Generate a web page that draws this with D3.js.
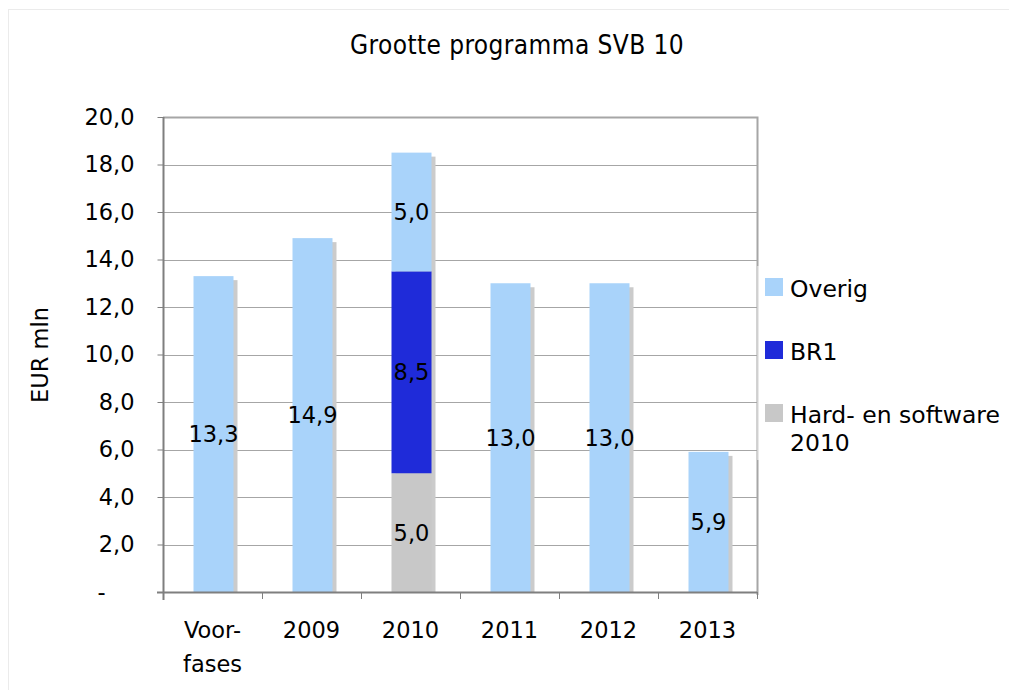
<!DOCTYPE html>
<html>
<head>
<meta charset="utf-8">
<script src="https://cdn.jsdelivr.net/npm/d3@7"></script>
<style>
  body { margin: 0; background: #fff; }
  text { font-family: "DejaVu Sans", Verdana, sans-serif; fill: #000; }
</style>
</head>
<body>
<div id="chart"></div>
<script>
// data
var categories = ["Voor-\nfases", "2009", "2010", "2011", "2012", "2013"];
var hardware = [0, 0, 5.0, 0, 0, 0];
var br1 = [0, 0, 8.5, 0, 0, 0];
var overig = [13.3, 14.9, 5.0, 13.0, 13.0, 5.9];
var seriesNames = ["Hard- en software 2010", "BR1", "Overig"];
var seriesColors = ["#c8c8c8", "#1f2bd9", "#a9d3fa"];
var yTicks = [0, 2, 4, 6, 8, 10, 12, 14, 16, 18, 20];

var width = 1009, height = 690;
var plot = {left: 163, right: 757, top: 117, bottom: 592};
var fs = "22.5px";

var svg = d3.select("#chart").append("svg")
    .attr("width", width)
    .attr("height", height);

// faint outer frame
svg.append("rect")
    .attr("x", 8.5).attr("y", 9.5)
    .attr("width", width + 20).attr("height", height + 20)
    .attr("fill", "none")
    .attr("stroke", "#ebebeb");

var x = d3.scaleBand()
    .domain(categories)
    .range([plot.left, plot.right]);

var y = d3.scaleLinear()
    .domain([0, 20])
    .range([plot.bottom, plot.top]);

var rows = categories.map(function(c, i) {
  return {cat: c, hw: hardware[i], br1: br1[i], overig: overig[i]};
});
var stack = d3.stack().keys(["hw", "br1", "overig"]);
var layers = stack(rows);

var fmt = function(v) {
  return v === 0 ? "-" : d3.format(".1f")(v).replace(".", ",");
};

// gridlines
svg.append("g")
  .selectAll("line")
  .data(yTicks.slice(1))
  .enter().append("line")
    .attr("x1", plot.left).attr("x2", plot.right)
    .attr("y1", function(d) { return Math.round(y(d)) + 0.5; })
    .attr("y2", function(d) { return Math.round(y(d)) + 0.5; })
    .attr("stroke", "#a6a6a6");

// plot border (top and right)
svg.append("path")
    .attr("d", "M" + plot.left + "," + (plot.top + 0.5) + "H" + (plot.right + 0.5) + "V" + (plot.bottom + 3))
    .attr("fill", "none")
    .attr("stroke", "#a6a6a6")
    .attr("stroke-width", 2);

var bw = 40, shadowOff = 4;
var barX = function(c) { return x(c) + x.bandwidth() / 2 - bw / 2 + 1; };

// shadows
svg.append("g")
  .selectAll("rect")
  .data(rows)
  .enter().append("rect")
    .attr("x", function(d) { return barX(d.cat) + shadowOff; })
    .attr("y", function(d) { return y(d.hw + d.br1 + d.overig) + shadowOff; })
    .attr("width", bw)
    .attr("height", function(d) { return plot.bottom - y(d.hw + d.br1 + d.overig) - shadowOff; })
    .attr("fill", "#cbcbcb");

// stacked bars
var layerG = svg.append("g")
  .selectAll("g")
  .data(layers)
  .enter().append("g")
    .attr("fill", function(d, i) { return seriesColors[i]; });

layerG.selectAll("rect")
  .data(function(d) { return d.filter(function(s) { return s[1] - s[0] > 0; }); })
  .enter().append("rect")
    .attr("x", function(d) { return barX(d.data.cat); })
    .attr("y", function(d) { return y(d[1]); })
    .attr("width", bw)
    .attr("height", function(d) { return y(d[0]) - y(d[1]); });

// value labels
layerG.selectAll("text")
  .data(function(d) { return d.filter(function(s) { return s[1] - s[0] > 0; }); })
  .enter().append("text")
    .attr("x", function(d) { return barX(d.data.cat) + bw / 2; })
    .attr("y", function(d) { return y((d[0] + d[1]) / 2); })
    .attr("dy", "0.36em")
    .attr("text-anchor", "middle")
    .style("font-size", fs)
    .style("fill", "#000")
    .text(function(d) { return fmt(d[1] - d[0]); });

// y axis
var yAxis = svg.append("g")
    .attr("transform", "translate(" + (plot.left + 0.5) + ",0)")
    .call(d3.axisLeft(y).tickValues(yTicks).tickSize(6).tickPadding(23).tickFormat(fmt));
yAxis.select(".domain").attr("stroke", "#7f7f7f").attr("stroke-width", 2)
    .attr("d", "M0," + plot.top + "V" + (plot.bottom + 8));
yAxis.selectAll(".tick line").attr("stroke", "#7f7f7f");
yAxis.selectAll(".tick text")
    .style("font-size", fs)
    .style("font-family", "DejaVu Sans, Verdana, sans-serif")
    .filter(function(d) { return d === 0; })
    .attr("x", -62)
    .attr("text-anchor", "middle");

// x axis
var xAxis = svg.append("g")
    .attr("transform", "translate(0," + (plot.bottom + 0.5) + ")")
    .call(d3.axisBottom(x).tickSize(0).tickFormat(""));
xAxis.select(".domain").attr("stroke", "#7f7f7f").attr("stroke-width", 2)
    .attr("d", "M" + (plot.left - 6) + ",0H" + plot.right);
svg.append("g")
  .selectAll("line")
  .data(categories)
  .enter().append("line")
    .attr("x1", function(d) { return x(d) + x.bandwidth() + 0.5; })
    .attr("x2", function(d) { return x(d) + x.bandwidth() + 0.5; })
    .attr("y1", plot.bottom).attr("y2", plot.bottom + 7)
    .attr("stroke", "#7f7f7f");

svg.append("g")
  .selectAll("text")
  .data(categories)
  .enter().append("text")
    .attr("x", function(d) { return x(d) + x.bandwidth() / 2; })
    .attr("y", 638)
    .attr("text-anchor", "middle")
    .style("font-size", fs)
  .selectAll("tspan")
  .data(function(d) { return d.split("\n"); })
  .enter().append("tspan")
    .attr("x", function() { var p = this.parentNode; return p.getAttribute("x"); })
    .attr("dy", function(d, i) { return i === 0 ? 0 : 34; })
    .text(function(d) { return d; });

// axis title
svg.append("text")
    .attr("transform", "translate(48,355) rotate(-90)")
    .attr("text-anchor", "middle")
    .style("font-size", fs)
    .text("EUR mln");

// chart title
svg.append("text")
    .attr("x", 517).attr("y", 54)
    .attr("text-anchor", "middle")
    .style("font-size", "26px")
    .style("letter-spacing", "0.4px")
    .style("font-family", "'DejaVu Sans Condensed', 'Liberation Sans Narrow', sans-serif")
    .style("font-stretch", "condensed")
    .text("Grootte programma SVB 10");

// legend
var legend = svg.append("g");
legend.append("rect")
    .attr("x", plot.right + 1.5).attr("y", 266)
    .attr("width", 300).attr("height", 194)
    .attr("fill", "#fff");
legend.append("line")
    .attr("x1", plot.right + 0.5).attr("x2", plot.right + 0.5)
    .attr("y1", 266).attr("y2", 460)
    .attr("stroke", "#d0d0d0");

var legendItems = [
  {name: ["Overig"], color: seriesColors[2], y: 278},
  {name: ["BR1"], color: seriesColors[1], y: 341},
  {name: ["Hard- en software", "2010"], color: seriesColors[0], y: 404}
];
var li = legend.selectAll("g.item")
  .data(legendItems)
  .enter().append("g")
    .attr("class", "item")
    .attr("transform", function(d) { return "translate(765," + d.y + ")"; });
li.append("rect")
    .attr("width", 18).attr("height", 18)
    .attr("fill", function(d) { return d.color; });
li.append("text")
    .attr("x", 25).attr("y", 19)
    .style("font-size", "23.5px")
  .selectAll("tspan")
  .data(function(d) { return d.name; })
  .enter().append("tspan")
    .attr("x", 25)
    .attr("dy", function(d, i) { return i === 0 ? 0 : 28; })
    .text(function(d) { return d; });
</script>
</body>
</html>
